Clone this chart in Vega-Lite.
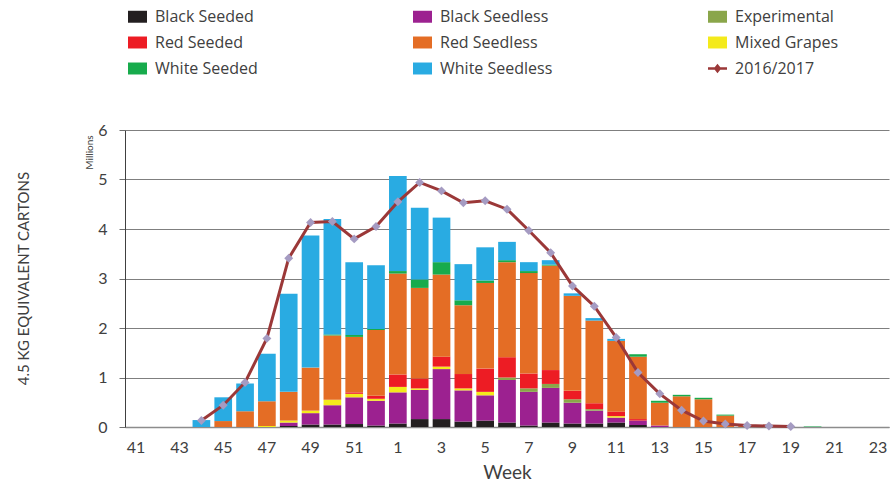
{
  "$schema": "https://vega.github.io/schema/vega-lite/v6.json",
  "width": 764,
  "height": 297,
  "autosize": "none",
  "padding": {"left": 125, "top": 130, "right": 1, "bottom": 65},
  "background": "white",
  "config": {"font": "Lato", "view": {"stroke": null}},
  "datasets": {
    "bars": [
      {"week": "44", "cat": "White Seedless", "value": 0.14},
      {"week": "45", "cat": "Red Seedless", "value": 0.12},
      {"week": "45", "cat": "White Seedless", "value": 0.48},
      {"week": "46", "cat": "Red Seedless", "value": 0.32},
      {"week": "46", "cat": "White Seedless", "value": 0.56},
      {"week": "47", "cat": "Mixed Grapes", "value": 0.02},
      {"week": "47", "cat": "Red Seedless", "value": 0.5},
      {"week": "47", "cat": "White Seedless", "value": 0.96},
      {"week": "48", "cat": "Black Seeded", "value": 0.02},
      {"week": "48", "cat": "Black Seedless", "value": 0.07},
      {"week": "48", "cat": "Mixed Grapes", "value": 0.04},
      {"week": "48", "cat": "Red Seedless", "value": 0.58},
      {"week": "48", "cat": "White Seedless", "value": 1.98},
      {"week": "49", "cat": "Black Seeded", "value": 0.05},
      {"week": "49", "cat": "Black Seedless", "value": 0.23},
      {"week": "49", "cat": "Mixed Grapes", "value": 0.05},
      {"week": "49", "cat": "Red Seedless", "value": 0.87},
      {"week": "49", "cat": "White Seedless", "value": 2.67},
      {"week": "50", "cat": "Black Seeded", "value": 0.05},
      {"week": "50", "cat": "Black Seedless", "value": 0.39},
      {"week": "50", "cat": "Mixed Grapes", "value": 0.11},
      {"week": "50", "cat": "Red Seedless", "value": 1.3},
      {"week": "50", "cat": "White Seeded", "value": 0.02},
      {"week": "50", "cat": "White Seedless", "value": 2.33},
      {"week": "51", "cat": "Black Seeded", "value": 0.06},
      {"week": "51", "cat": "Black Seedless", "value": 0.54},
      {"week": "51", "cat": "Mixed Grapes", "value": 0.07},
      {"week": "51", "cat": "Red Seeded", "value": 0.03},
      {"week": "51", "cat": "Red Seedless", "value": 1.12},
      {"week": "51", "cat": "White Seeded", "value": 0.04},
      {"week": "51", "cat": "White Seedless", "value": 1.47},
      {"week": "52", "cat": "Black Seeded", "value": 0.03},
      {"week": "52", "cat": "Black Seedless", "value": 0.5},
      {"week": "52", "cat": "Mixed Grapes", "value": 0.04},
      {"week": "52", "cat": "Red Seeded", "value": 0.06},
      {"week": "52", "cat": "Red Seedless", "value": 1.33},
      {"week": "52", "cat": "White Seeded", "value": 0.02},
      {"week": "52", "cat": "White Seedless", "value": 1.29},
      {"week": "1", "cat": "Black Seeded", "value": 0.07},
      {"week": "1", "cat": "Black Seedless", "value": 0.63},
      {"week": "1", "cat": "Mixed Grapes", "value": 0.11},
      {"week": "1", "cat": "Red Seeded", "value": 0.25},
      {"week": "1", "cat": "Red Seedless", "value": 2.04},
      {"week": "1", "cat": "White Seeded", "value": 0.05},
      {"week": "1", "cat": "White Seedless", "value": 1.92},
      {"week": "2", "cat": "Black Seeded", "value": 0.16},
      {"week": "2", "cat": "Black Seedless", "value": 0.59},
      {"week": "2", "cat": "Mixed Grapes", "value": 0.03},
      {"week": "2", "cat": "Red Seeded", "value": 0.2},
      {"week": "2", "cat": "Red Seedless", "value": 1.83},
      {"week": "2", "cat": "White Seeded", "value": 0.17},
      {"week": "2", "cat": "White Seedless", "value": 1.45},
      {"week": "3", "cat": "Black Seeded", "value": 0.16},
      {"week": "3", "cat": "Black Seedless", "value": 1.01},
      {"week": "3", "cat": "Mixed Grapes", "value": 0.05},
      {"week": "3", "cat": "Red Seeded", "value": 0.2},
      {"week": "3", "cat": "Red Seedless", "value": 1.66},
      {"week": "3", "cat": "White Seeded", "value": 0.25},
      {"week": "3", "cat": "White Seedless", "value": 0.9},
      {"week": "4", "cat": "Black Seeded", "value": 0.11},
      {"week": "4", "cat": "Black Seedless", "value": 0.63},
      {"week": "4", "cat": "Mixed Grapes", "value": 0.04},
      {"week": "4", "cat": "Red Seeded", "value": 0.29},
      {"week": "4", "cat": "Red Seedless", "value": 1.39},
      {"week": "4", "cat": "White Seeded", "value": 0.1},
      {"week": "4", "cat": "White Seedless", "value": 0.73},
      {"week": "5", "cat": "Black Seeded", "value": 0.13},
      {"week": "5", "cat": "Black Seedless", "value": 0.51},
      {"week": "5", "cat": "Mixed Grapes", "value": 0.07},
      {"week": "5", "cat": "Red Seeded", "value": 0.47},
      {"week": "5", "cat": "Red Seedless", "value": 1.73},
      {"week": "5", "cat": "White Seeded", "value": 0.05},
      {"week": "5", "cat": "White Seedless", "value": 0.67},
      {"week": "6", "cat": "Black Seeded", "value": 0.09},
      {"week": "6", "cat": "Black Seedless", "value": 0.86},
      {"week": "6", "cat": "Experimental", "value": 0.05},
      {"week": "6", "cat": "Red Seeded", "value": 0.41},
      {"week": "6", "cat": "Red Seedless", "value": 1.92},
      {"week": "6", "cat": "White Seeded", "value": 0.04},
      {"week": "6", "cat": "White Seedless", "value": 0.37},
      {"week": "7", "cat": "Black Seeded", "value": 0.03},
      {"week": "7", "cat": "Black Seedless", "value": 0.68},
      {"week": "7", "cat": "Experimental", "value": 0.07},
      {"week": "7", "cat": "Red Seeded", "value": 0.3},
      {"week": "7", "cat": "Red Seedless", "value": 2.03},
      {"week": "7", "cat": "White Seeded", "value": 0.04},
      {"week": "7", "cat": "White Seedless", "value": 0.18},
      {"week": "8", "cat": "Black Seeded", "value": 0.09},
      {"week": "8", "cat": "Black Seedless", "value": 0.7},
      {"week": "8", "cat": "Experimental", "value": 0.08},
      {"week": "8", "cat": "Red Seeded", "value": 0.28},
      {"week": "8", "cat": "Red Seedless", "value": 2.11},
      {"week": "8", "cat": "White Seeded", "value": 0.02},
      {"week": "8", "cat": "White Seedless", "value": 0.09},
      {"week": "9", "cat": "Black Seeded", "value": 0.07},
      {"week": "9", "cat": "Black Seedless", "value": 0.42},
      {"week": "9", "cat": "Experimental", "value": 0.07},
      {"week": "9", "cat": "Red Seeded", "value": 0.17},
      {"week": "9", "cat": "Red Seedless", "value": 1.92},
      {"week": "9", "cat": "White Seedless", "value": 0.05},
      {"week": "10", "cat": "Black Seeded", "value": 0.07},
      {"week": "10", "cat": "Black Seedless", "value": 0.26},
      {"week": "10", "cat": "Experimental", "value": 0.03},
      {"week": "10", "cat": "Red Seeded", "value": 0.12},
      {"week": "10", "cat": "Red Seedless", "value": 1.67},
      {"week": "10", "cat": "White Seedless", "value": 0.05},
      {"week": "11", "cat": "Black Seeded", "value": 0.09},
      {"week": "11", "cat": "Black Seedless", "value": 0.1},
      {"week": "11", "cat": "Mixed Grapes", "value": 0.03},
      {"week": "11", "cat": "Red Seeded", "value": 0.09},
      {"week": "11", "cat": "Red Seedless", "value": 1.43},
      {"week": "11", "cat": "White Seedless", "value": 0.04},
      {"week": "12", "cat": "Black Seeded", "value": 0.04},
      {"week": "12", "cat": "Black Seedless", "value": 0.09},
      {"week": "12", "cat": "Red Seeded", "value": 0.03},
      {"week": "12", "cat": "Red Seedless", "value": 1.26},
      {"week": "12", "cat": "White Seeded", "value": 0.05},
      {"week": "13", "cat": "Black Seedless", "value": 0.03},
      {"week": "13", "cat": "Red Seedless", "value": 0.46},
      {"week": "13", "cat": "White Seeded", "value": 0.04},
      {"week": "14", "cat": "Red Seedless", "value": 0.62},
      {"week": "14", "cat": "White Seeded", "value": 0.03},
      {"week": "15", "cat": "Red Seedless", "value": 0.56},
      {"week": "15", "cat": "White Seeded", "value": 0.03},
      {"week": "16", "cat": "Red Seedless", "value": 0.23},
      {"week": "16", "cat": "White Seeded", "value": 0.02},
      {"week": "17", "cat": "Red Seedless", "value": 0.02},
      {"week": "20", "cat": "White Seeded", "value": 0.01}
    ],
    "line": [
      {"week": "44", "total": 0.13},
      {"week": "45", "total": 0.44},
      {"week": "46", "total": 0.9},
      {"week": "47", "total": 1.79},
      {"week": "48", "total": 3.41},
      {"week": "49", "total": 4.13},
      {"week": "50", "total": 4.15},
      {"week": "51", "total": 3.8},
      {"week": "52", "total": 4.05},
      {"week": "1", "total": 4.55},
      {"week": "2", "total": 4.94},
      {"week": "3", "total": 4.77},
      {"week": "4", "total": 4.53},
      {"week": "5", "total": 4.57},
      {"week": "6", "total": 4.4},
      {"week": "7", "total": 3.97},
      {"week": "8", "total": 3.52},
      {"week": "9", "total": 2.85},
      {"week": "10", "total": 2.44},
      {"week": "11", "total": 1.81},
      {"week": "12", "total": 1.1},
      {"week": "13", "total": 0.67},
      {"week": "14", "total": 0.34},
      {"week": "15", "total": 0.12},
      {"week": "16", "total": 0.06},
      {"week": "17", "total": 0.03},
      {"week": "18", "total": 0.02},
      {"week": "19", "total": 0.01}
    ]
  },
  "layer": [
    {
      "data": {"name": "bars"},
      "transform": [
        {"calculate": "indexof(['Black Seeded','Black Seedless','Mixed Grapes','Experimental','Red Seeded','Red Seedless','White Seeded','White Seedless'], datum.cat)", "as": "stackorder"}
      ],
      "mark": {"type": "bar"},
      "encoding": {
        "x": {
          "field": "week", "type": "ordinal",
          "scale": {
            "domain": ["41","42","43","44","45","46","47","48","49","50","51","52","1","2","3","4","5","6","7","8","9","10","11","12","13","14","15","16","17","18","19","20","21","22","23"],
            "paddingInner": 0.19, "paddingOuter": 0.095
          },
          "axis": {
            "title": "Week", "titleFontSize": 19, "titleFontWeight": "normal", "titleColor": "#404040", "titlePadding": 8,
            "labelExpr": "toNumber(datum.value) % 2 === 1 ? datum.value : ''",
            "labelAngle": 0, "labelFontSize": 16, "labelColor": "#404040", "labelPadding": 12,
            "ticks": false, "domainColor": "#8c8c8c", "domainWidth": 1.5, "grid": false
          }
        },
        "y": {
          "field": "value", "type": "quantitative", "stack": "zero",
          "scale": {"domain": [0, 6], "nice": false},
          "axis": {
            "title": "4.5 KG EQUIVALENT CARTONS", "titleFontSize": 15, "titleFontWeight": "normal", "titleColor": "#404040",
            "titleX": -102, "titleY": 148, "titleAngle": -90, "titleAlign": "center", "titleBaseline": "middle",
            "values": [0, 1, 2, 3, 4, 5, 6], "labelFontSize": 16, "labelColor": "#404040", "labelPadding": 12,
            "tickSize": 6, "tickColor": "#6f6f6f", "domainColor": "#404040", "grid": true, "gridColor": "#7f7f7f"
          }
        },
        "color": {
          "field": "cat", "type": "nominal",
          "scale": {
            "domain": ["Black Seeded","Black Seedless","Experimental","Red Seeded","Red Seedless","Mixed Grapes","White Seeded","White Seedless","2016/2017"],
            "range": ["#231f20","#9c2190","#8aa64a","#ed1c24","#e46d25","#f4ea1b","#17ab4c","#29abe2","#9b3838"]
          },
          "legend": {
            "orient": "none", "legendX": 3, "legendY": -123, "direction": "horizontal", "columns": 3, "columnPadding": 155, "rowPadding": 8,
            "title": null, "symbolType": "M-1,-0.63H1V0.63H-1Z", "symbolSize": 361, "symbolStrokeWidth": 0,
            "labelFont": "Open Sans", "labelFontSize": 16, "labelColor": "#404040", "labelOffset": 8,
            "encode": {"symbols": {"update": {"shape": {"signal": "datum.value === '2016/2017' ? 'M-1,-0.13H1V0.13H-1Z M0,-0.5L0.4,0L0,0.5L-0.4,0Z' : 'M-1,-0.63H1V0.63H-1Z'"}}}}
          }
        },
        "order": {"field": "stackorder", "type": "quantitative"}
      }
    },
    {
      "data": {"name": "line"},
      "mark": {"type": "line", "strokeWidth": 3},
      "encoding": {
        "x": {"field": "week", "type": "ordinal"},
        "y": {
          "field": "total", "type": "quantitative",
          "axis": {
            "orient": "left", "title": "Millions", "titleFontSize": 10, "titleFontWeight": "normal", "titleColor": "#404040",
            "titleX": -36, "titleY": 22, "titleAngle": -90, "titleAlign": "center", "titleBaseline": "middle",
            "labels": false, "ticks": false, "domain": false, "grid": false
          }
        },
        "color": {"datum": "2016/2017"}
      }
    },
    {
      "data": {"name": "line"},
      "mark": {"type": "point", "shape": "diamond", "filled": true, "color": "#a59bc2", "size": 80, "opacity": 1},
      "encoding": {
        "x": {"field": "week", "type": "ordinal"},
        "y": {"field": "total", "type": "quantitative", "axis": null}
      }
    }
  ],
  "resolve": {"axis": {"y": "independent"}}
}
